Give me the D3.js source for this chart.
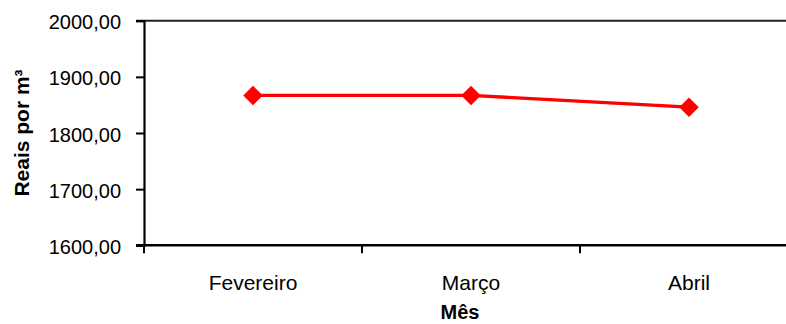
<!DOCTYPE html>
<html>
<head>
<meta charset="utf-8">
<script src="https://cdn.jsdelivr.net/npm/d3@7"></script>
<style>
  html, body { margin: 0; padding: 0; background: #fff; }
  svg { display: block; }
  text { font-family: "Liberation Sans", Arial, sans-serif; fill: #000; }
</style>
</head>
<body>
<svg id="chart" width="786" height="324"></svg>
<script>
// Preço médio por metro cúbico, por mês
const months = ["Fevereiro", "Março", "Abril"];
const prices = [1867, 1867, 1846];
const yTicks = [1600, 1700, 1800, 1900, 2000];
const yTitle = "Reais por m³";
const xTitle = "Mês";

const svg = d3.select("#chart");
const W = 786, H = 324;
const plot = { left: 144, top: 20.7, bottom: 245.3, right: 798 };

const x = d3.scaleBand().domain(months).range([plot.left, plot.right]).padding(0);
const y = d3.scaleLinear().domain([1600, 2000]).range([plot.bottom, plot.top]);

const ptBR = d3.formatLocale({ decimal: ",", thousands: ".", grouping: [3], currency: ["R$", ""] });
const fmt = ptBR.format(".2f");

// top border of the plot area
svg.append("line")
  .attr("x1", plot.left - 8).attr("x2", W)
  .attr("y1", y(2000)).attr("y2", y(2000))
  .attr("stroke", "#222").attr("stroke-width", 2);

// Y axis
const yAxis = svg.append("g")
  .attr("transform", `translate(${plot.left},0)`)
  .call(d3.axisLeft(y).tickValues(yTicks).tickFormat(fmt).tickSize(8).tickPadding(15));
yAxis.select(".domain").attr("stroke", "#000").attr("stroke-width", 2.2);
yAxis.selectAll(".tick line").attr("stroke", "#000").attr("stroke-width", 2);
yAxis.selectAll(".tick text")
  .attr("font-size", 20).attr("dy", "0.4em")
  .style("font-family", "'Liberation Sans', Arial, sans-serif");

// X axis: ticks on the category boundaries
const boundaries = months.map(m => x(m));
svg.append("line")
  .attr("x1", plot.left - 8).attr("x2", W)
  .attr("y1", plot.bottom).attr("y2", plot.bottom)
  .attr("stroke", "#000").attr("stroke-width", 2.4);
svg.append("g").selectAll("line")
  .data(boundaries)
  .join("line")
  .attr("x1", d => d).attr("x2", d => d)
  .attr("y1", plot.bottom).attr("y2", plot.bottom + 8)
  .attr("stroke", "#000").attr("stroke-width", 2);

svg.append("g").selectAll("text")
  .data(months)
  .join("text")
  .attr("x", d => x(d) + x.bandwidth() / 2)
  .attr("y", 290)
  .attr("text-anchor", "middle")
  .attr("font-size", 21)
  .text(d => d);

// axis titles
svg.append("text")
  .attr("transform", `translate(29,133) rotate(-90)`)
  .attr("text-anchor", "middle")
  .attr("font-size", 21).attr("font-weight", "bold")
  .text(yTitle);

svg.append("text")
  .attr("x", 460).attr("y", 319)
  .attr("text-anchor", "middle")
  .attr("font-size", 20).attr("font-weight", "bold")
  .text(xTitle);

// price line and diamond markers
const pts = months.map((m, i) => [x(m) + x.bandwidth() / 2, y(prices[i])]);
svg.append("path")
  .attr("d", d3.line()(pts))
  .attr("fill", "none")
  .attr("stroke", "#ff0000")
  .attr("stroke-width", 3.3);

svg.append("g").selectAll("path")
  .data(pts)
  .join("path")
  .attr("transform", d => `translate(${d[0]},${d[1]}) rotate(45)`)
  .attr("d", d3.symbol().type(d3.symbolSquare).size(190))
  .attr("fill", "#ff0000");
</script>
</body>
</html>
